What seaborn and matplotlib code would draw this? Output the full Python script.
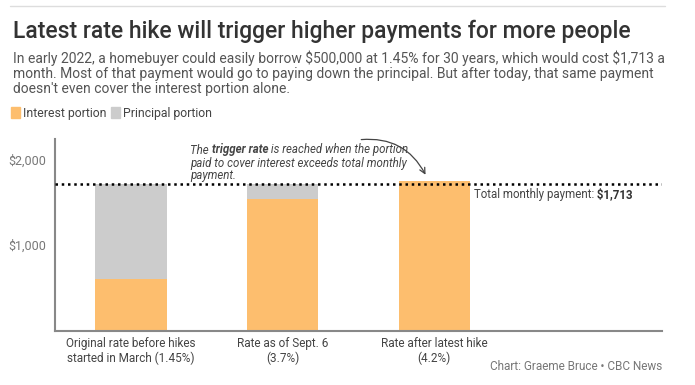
import matplotlib
matplotlib.use("Agg")
import matplotlib.pyplot as plt
import seaborn as sns
import pandas as pd
from matplotlib.patches import Rectangle

# data
categories = ["Original rate before hikes\nstarted in March (1.45%)",
              "Rate as of Sept. 6\n(3.7%)",
              "Rate after latest hike\n(4.2%)"]
interest = [604, 1542, 1750]
principal = [1109, 171, 0]
monthly_payment = 1713

df = pd.DataFrame({"cat": categories, "interest": interest, "principal": principal})
df["total"] = df["interest"] + df["principal"]

sns.set_style("white")
plt.rcParams["font.family"] = ["Roboto", "DejaVu Sans"]

orange = "#fdbe6e"
grey = "#cccccc"
txt = "#333333"

fig = plt.figure(figsize=(6.95, 3.85), dpi=100)
ax = fig.add_axes([55 / 695, 1 - 331 / 385, (662 - 55) / 695, (331 - 139) / 385])

sns.barplot(data=df, x="cat", y="total", color=grey, width=0.47, ax=ax, saturation=1, linewidth=0)
sns.barplot(data=df, x="cat", y="interest", color=orange, width=0.47, ax=ax, saturation=1, linewidth=0)

ax.set_xlim(-0.5, 3.5)
ax.set_ylim(0, 2235)
ax.set_yticks([1000, 2000])
ax.set_yticklabels(["$1,000", "$2,000"])
ax.set_xlabel("")
ax.set_ylabel("")
ax.tick_params(axis="y", length=0, labelsize=9, labelcolor="#777777", pad=6)
ax.tick_params(axis="x", length=0, labelsize=8.5, labelcolor="#444444", pad=4)
for s in ["top", "right"]:
    ax.spines[s].set_visible(False)
for s in ["left", "bottom"]:
    ax.spines[s].set_color("#888888")
    ax.spines[s].set_linewidth(1.5)

# total payment line
ax.axhline(monthly_payment, color="black", linestyle=(0, (1, 1.5)), linewidth=1.8, zorder=5)
t = ax.text(2.26, monthly_payment - 45, "Total monthly payment:", fontsize=8.3, color="#444444",
            va="top", ha="left", parse_math=False)
ax.annotate(" $1,713", xy=(1, 0), xycoords=t, fontsize=8.3, color=txt, fontweight="bold",
            va="bottom", ha="left", parse_math=False)

# trigger rate note
note_kw = dict(style="italic", fontsize=8.3, color="#444444")
t1 = fig.text(190 / 695, 1 - 150 / 385, "The ", va="center", **note_kw)
t2 = ax.annotate("trigger rate", xy=(1, 0), xycoords=t1, va="bottom", ha="left",
                 fontweight="bold", **note_kw)
ax.annotate(" is reached when the portion", xy=(1, 0), xycoords=t2, va="bottom", ha="left", **note_kw)
fig.text(190 / 695, 1 - 163 / 385, "paid to cover interest exceeds total monthly", va="center", **note_kw)
fig.text(190 / 695, 1 - 176 / 385, "payment.", va="center", **note_kw)
ax.annotate("", xy=(1.95, 1790), xytext=(1.5, 2225),
            arrowprops=dict(arrowstyle="->", color="#444444", lw=0.9,
                            connectionstyle="arc3,rad=-0.35"))

# header
fig.add_artist(plt.Line2D([10 / 695, 665 / 695], [1 - 6 / 385, 1 - 6 / 385], color="#dddddd", lw=1))
fig.text(13 / 695, 1 - 31 / 385, "Latest rate hike will trigger higher payments for more people",
         fontsize=16.5, fontweight="medium", color="#333333", va="center", ha="left")
fig.text(13 / 695, 1 - 50 / 385,
         "In early 2022, a homebuyer could easily borrow $500,000 at 1.45% for 30 years, which would cost $1,713 a\n"
         "month. Most of that payment would go to paying down the principal. But after today, that same payment\n"
         "doesn't even cover the interest portion alone.",
         fontsize=10, color="#555555", va="top", ha="left", linespacing=1.12, parse_math=False)

# legend
fig.add_artist(Rectangle((11 / 695, 1 - 118 / 385), 9 / 695, 11 / 385, color=orange, transform=fig.transFigure))
fig.text(23 / 695, 1 - 113 / 385, "Interest portion", fontsize=8.8, color="#444444", va="center")
fig.add_artist(Rectangle((111 / 695, 1 - 118 / 385), 9 / 695, 11 / 385, color=grey, transform=fig.transFigure))
fig.text(123 / 695, 1 - 113 / 385, "Principal portion", fontsize=8.8, color="#444444", va="center")

# credit
fig.text(662 / 695, 1 - 366 / 385, "Chart: Graeme Bruce \u2022 CBC News", fontsize=8.5,
         color="#777777", ha="right", va="center")

fig.savefig("out.png", dpi=100)
